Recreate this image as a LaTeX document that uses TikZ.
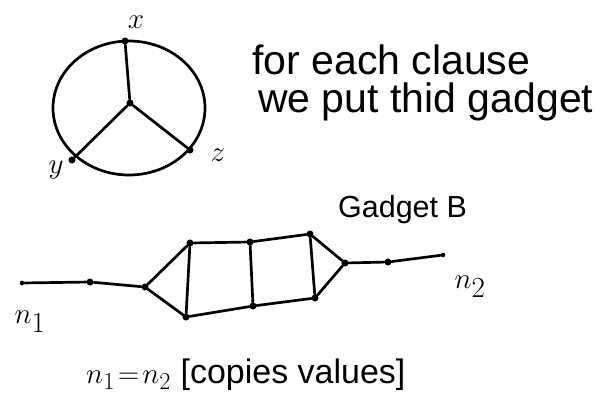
\documentclass[tikz,border=0pt]{standalone}
\usepackage{fontspec}
\setmainfont{Liberation Sans}
\usetikzlibrary{positioning,calc}

\begin{document}
\begin{tikzpicture}[x=0.03cm, y=-0.03cm,
  % pen strokes of the sketch
  pen/.style={line width=2.3pt, draw=black, line cap=round, line join=round},
  vtx/.style={circle, fill=black, inner sep=0pt, minimum size=6pt},
  endpt/.style={circle, fill=black, inner sep=0pt, minimum size=4pt},
  note/.style={font=\fontsize{35}{40}\selectfont, inner sep=0pt},
  lbl/.style={font=\fontsize{38}{42}\selectfont, inner sep=1pt},
]
\useasboundingbox (0,0) rectangle (606,415);

% clause gadget
\coordinate (ctr) at (129,108);
\node[vtx] (mid) at (130,103) {};
\node[vtx] (vx) at (125,41) {};
\node[vtx] (vy) at (72,160) {};
\node[vtx] (vz) at (190,150) {};
\draw[pen] (ctr) ellipse [x radius=76, y radius=67];
\foreach \v in {vx,vy,vz}
  \draw[pen] (mid) -- (\v);
\node[lbl] (lx) at (136,22) {$x$};
\node[lbl] (ly) at (56,170) {$y$};
\node[lbl] (lz) at (218,155) {$z$};

\node[note, anchor=west] (t1) at (252,60) {for each clause};
\node[note, anchor=west] (t2) at (258,102) {we put thid gadget};

% gadget B
\node[endpt] (n1) at (22,283) {};
\node[vtx] (a1) at (90,282) {};
\node[vtx] (l) at (145,287) {};
\node[vtx] (tl) at (190,243) {};
\node[vtx] (bl) at (186,317) {};
\node[vtx] (tm) at (250,242) {};
\node[vtx] (bm) at (253,306) {};
\node[vtx] (tr) at (310,234) {};
\node[vtx] (br) at (315,298) {};
\node[vtx] (r) at (345,263) {};
\node[vtx] (a2) at (388,262) {};
\node[endpt] (n2) at (443,255) {};

\draw[pen] (n1) -- (a1) -- (l) -- (tl) -- (tm) -- (tr) -- (r) -- (a2) -- (n2);
\draw[pen] (l) -- (bl) -- (bm) -- (br) -- (r);
\foreach \a/\b in {tl/bl, tm/bm, tr/br}
  \draw[pen] (\a) -- (\b);

\node[note, anchor=west, font=\fontsize{26}{30}\selectfont] (gb) at (338,210) {Gadget B};
\node[lbl] (ln1) at (30,322) {$n_1$};
\node[lbl] (ln2) at (470,287) {$n_2$};

\node[note, anchor=west, font=\fontsize{29}{34}\selectfont] (eq) at (86,375) {$n_1\!=\!n_2$ [copies values]};
\end{tikzpicture}
\end{document}
